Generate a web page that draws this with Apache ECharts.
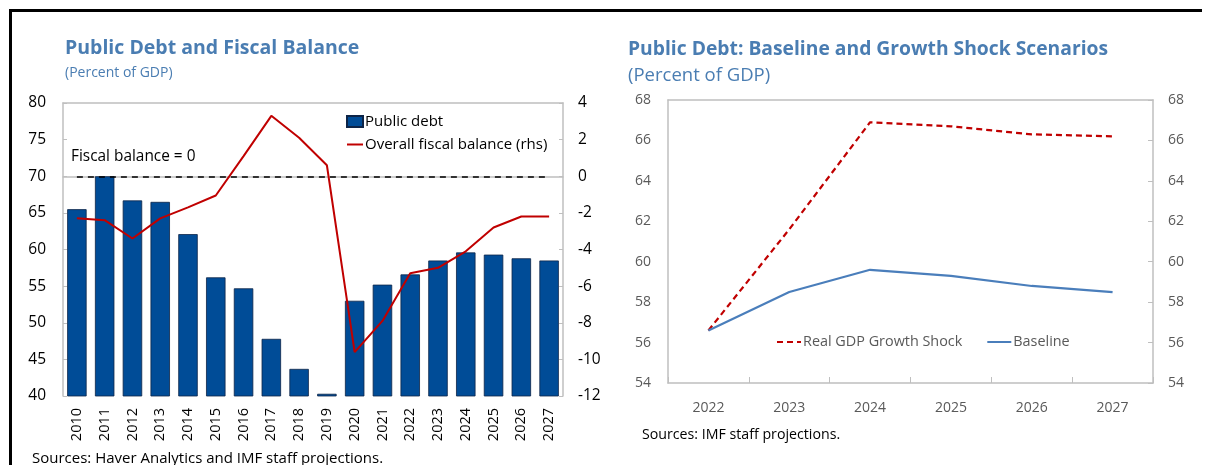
<!DOCTYPE html>
<html>
<head>
<meta charset="utf-8">
<script src="https://cdn.jsdelivr.net/npm/echarts@6/dist/echarts.min.js"></script>
<style>
  html, body { margin: 0; padding: 0; background: #fff; }
  #chart { width: 1207px; height: 465px; }
</style>
</head>
<body>
<div id="chart"></div>
<script>
// Left panel: public debt (bars, lhs) and overall fiscal balance (line, rhs)
const years = ['2010','2011','2012','2013','2014','2015','2016','2017','2018',
               '2019','2020','2021','2022','2023','2024','2025','2026','2027'];
const publicDebt = [65.5, 70.0, 66.7, 66.5, 62.1, 56.2, 54.7, 47.8, 43.7,
                    40.3, 53.0, 55.2, 56.6, 58.5, 59.6, 59.3, 58.8, 58.5];
const fiscalBalance = [-2.3, -2.4, -3.4, -2.3, -1.7, -1.05, 1.1, 3.3, 2.1,
                       0.6, -9.6, -7.9, -5.3, -5.0, -4.1, -2.8, -2.2, -2.2];

// Right panel: debt path under baseline and real GDP growth shock
const scenarioYears = ['2022','2023','2024','2025','2026','2027'];
const growthShock = [56.6, 61.6, 66.9, 66.7, 66.3, 66.2];
const baseline = [56.6, 58.5, 59.6, 59.3, 58.8, 58.5];

const FONT = '"Open Sans", "Noto Sans", sans-serif';
const TITLE_BLUE = '#4a7db2';
const GRID_GRAY = '#bfbfbf';

const chart = echarts.init(document.getElementById('chart'), null, { renderer: 'canvas' });

function text(str, left, top, size, color, weight) {
  return { text: str, left: left, top: top, padding: 0,
    textStyle: { fontFamily: FONT, fontSize: size, fontWeight: weight || 'normal', color: color } };
}

chart.setOption({
  animation: false,
  textStyle: { fontFamily: FONT },
  title: [
    text('Public Debt and Fiscal Balance', 65, 38, 19.5, TITLE_BLUE, 'bold'),
    text('(Percent of GDP)', 65, 66, 14, TITLE_BLUE),
    text('Public Debt: Baseline and Growth Shock Scenarios', 628, 40, 19.3, TITLE_BLUE, 'bold'),
    text('(Percent of GDP)', 628, 66, 18.5, TITLE_BLUE),
    text('Fiscal balance = 0', 71, 149, 15.4, '#000'),
    text('Sources: Haver Analytics and IMF staff projections.', 32, 451, 15, '#000'),
    text('Sources: IMF staff projections.', 642, 428, 14.2, '#000')
  ],
  legend: [
    { orient: 'vertical', left: 346, top: 114, itemGap: 8,
      itemWidth: 16, itemHeight: 11, padding: 0,
      textStyle: { fontFamily: FONT, fontSize: 15, color: '#000', padding: [0, 0, 0, -3] },
      data: [
        { name: 'Public debt', icon: 'rect' },
        { name: 'Overall fiscal balance (rhs)', itemStyle: { opacity: 0 } }
      ] },
    { orient: 'horizontal', left: 776, top: 335, itemGap: 24,
      itemWidth: 24, itemHeight: 12, padding: 0,
      textStyle: { fontFamily: FONT, fontSize: 14.4, color: '#595959', padding: [0, 0, 0, -3] },
      data: [
        { name: 'Real GDP Growth Shock', itemStyle: { opacity: 0 } },
        { name: 'Baseline', itemStyle: { opacity: 0 } }
      ] }
  ],
  grid: [
    { left: 63, top: 103, width: 500, height: 293 },
    { left: 668, top: 100, width: 485, height: 283 }
  ],
  xAxis: [
    { type: 'category', gridIndex: 0, data: years, boundaryGap: true,
      axisLine: { lineStyle: { color: GRID_GRAY, width: 1.5 } },
      axisTick: { show: false },
      axisLabel: { rotate: 90, fontSize: 14.5, color: '#000', margin: 12, fontFamily: FONT } },
    { type: 'category', gridIndex: 0, position: 'top', data: years,
      axisLine: { show: true, lineStyle: { color: GRID_GRAY, width: 1.5 } },
      axisTick: { show: false }, axisLabel: { show: false } },
    { type: 'category', gridIndex: 1, data: scenarioYears, boundaryGap: true,
      axisLine: { lineStyle: { color: GRID_GRAY, width: 1.5 } },
      axisTick: { show: true, inside: true, length: 6, lineStyle: { color: GRID_GRAY } },
      axisLabel: { fontSize: 14, color: '#595959', margin: 18, fontFamily: FONT } },
    { type: 'category', gridIndex: 1, position: 'top', data: scenarioYears,
      axisLine: { show: true, lineStyle: { color: GRID_GRAY, width: 1.5 } },
      axisTick: { show: false }, axisLabel: { show: false } }
  ],
  yAxis: [
    { type: 'value', gridIndex: 0, min: 40, max: 80, interval: 5, position: 'left',
      axisLine: { show: true, lineStyle: { color: GRID_GRAY, width: 1.5 } },
      axisTick: { show: true, inside: true, length: 4, lineStyle: { color: GRID_GRAY } },
      splitLine: { show: false },
      axisLabel: { fontSize: 15.5, color: '#000', margin: 17, fontFamily: FONT } },
    { type: 'value', gridIndex: 0, min: -12, max: 4, interval: 2, position: 'right',
      axisLine: { show: true, lineStyle: { color: GRID_GRAY, width: 1.5 } },
      axisTick: { show: true, inside: true, length: 4, lineStyle: { color: GRID_GRAY } },
      splitLine: { show: false },
      axisLabel: { fontSize: 15.5, color: '#000', margin: 15, fontFamily: FONT } },
    { type: 'value', gridIndex: 1, min: 54, max: 68, interval: 2, position: 'left',
      axisLine: { show: true, lineStyle: { color: GRID_GRAY, width: 1.5 } },
      axisTick: { show: false },
      splitLine: { show: false },
      axisLabel: { fontSize: 14, color: '#595959', margin: 17, fontFamily: FONT } },
    { type: 'value', gridIndex: 1, min: 54, max: 68, interval: 2, position: 'right',
      axisLine: { show: true, lineStyle: { color: GRID_GRAY, width: 1.5 } },
      axisTick: { show: true, inside: true, length: 5, lineStyle: { color: GRID_GRAY } },
      splitLine: { show: false },
      axisLabel: { fontSize: 14, color: '#595959', margin: 15, fontFamily: FONT } }
  ],
  series: [
    { name: 'Public debt', type: 'bar', xAxisIndex: 0, yAxisIndex: 0,
      data: publicDebt, barWidth: '70%',
      itemStyle: { color: '#004c97', borderColor: '#0d2447', borderWidth: 0.8 } },
    { name: 'Overall fiscal balance (rhs)', type: 'line', xAxisIndex: 0, yAxisIndex: 1,
      data: fiscalBalance, symbol: 'none', z: 5,
      lineStyle: { color: '#c00000', width: 2 }, itemStyle: { color: '#c00000' },
      markLine: {
        silent: true, symbol: 'none', label: { show: false },
        lineStyle: { color: '#000', type: [6, 5], width: 1.6 },
        data: [[{ coord: ['2010', 0] }, { coord: ['2027', 0] }]]
      } },
    { name: 'Real GDP Growth Shock', type: 'line', xAxisIndex: 2, yAxisIndex: 2,
      data: growthShock, symbol: 'none', z: 4,
      lineStyle: { color: '#c00000', width: 2.2, type: [6, 4] }, itemStyle: { color: '#c00000' } },
    { name: 'Baseline', type: 'line', xAxisIndex: 2, yAxisIndex: 2,
      data: baseline, symbol: 'none', z: 5,
      lineStyle: { color: '#4a7ebb', width: 2.2 }, itemStyle: { color: '#4a7ebb' } }
  ],
  graphic: [
    // black frame along the top and left edge of the page
    { type: 'line', shape: { x1: 10, y1: 10.5, x2: 1202, y2: 10.5 },
      style: { stroke: '#000', lineWidth: 3 } },
    { type: 'line', shape: { x1: 10.5, y1: 9, x2: 10.5, y2: 465 },
      style: { stroke: '#000', lineWidth: 3 } }
  ]
});
</script>
</body>
</html>
